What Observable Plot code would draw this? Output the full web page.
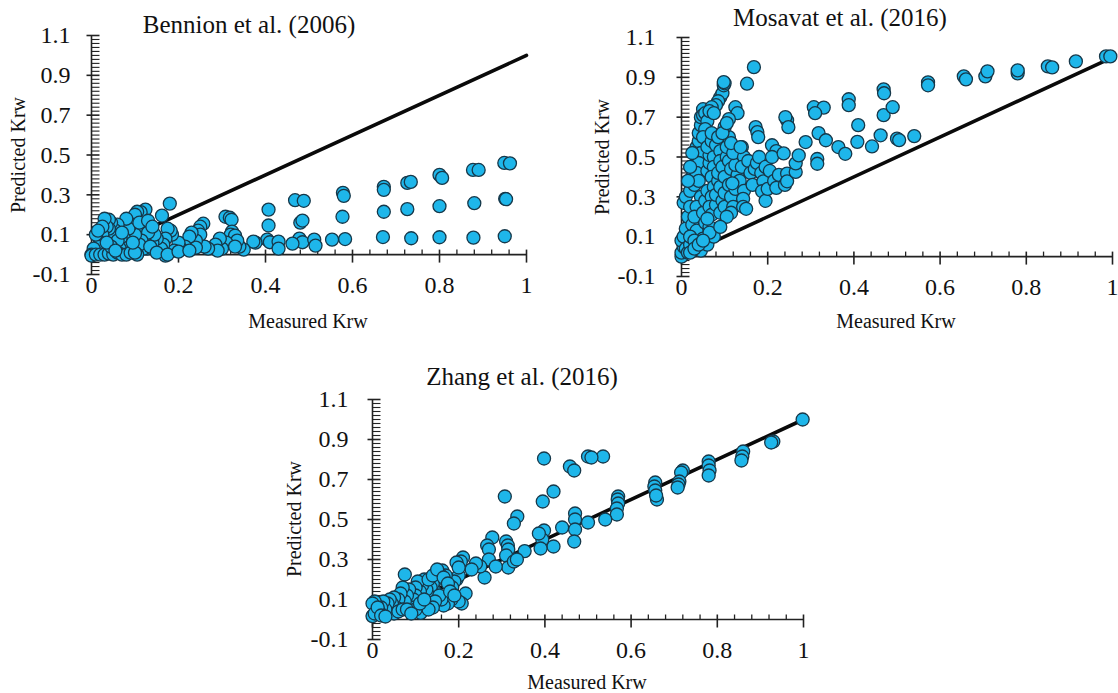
<!DOCTYPE html>
<html><head><meta charset="utf-8">
<script src="https://cdn.jsdelivr.net/npm/d3@7"></script>
<script src="https://cdn.jsdelivr.net/npm/@observablehq/plot@0.6"></script>
<style>
html,body{margin:0;padding:0;background:#fff;}
#wrap{position:relative;width:1118px;height:693px;overflow:hidden;font-family:"Liberation Serif","Times New Roman",serif;color:#111;}
#wrap svg text{font-family:"Liberation Serif","Times New Roman",serif !important;}
.panel{position:absolute;}
.t{position:absolute;white-space:nowrap;line-height:1;}
.title{font-size:25px;transform:translateX(-50%);}
.xl{font-size:20px;transform:translateX(-50%);}
.yl{font-size:20px;transform:translate(-50%,-50%) rotate(-90deg);}
</style></head>
<body><div id="wrap"></div>
<script>
// ---------- data ----------
const xTickValues = [0, 0.2, 0.4, 0.6, 0.8, 1];
const yTickValues = [-0.1, 0.1, 0.3, 0.5, 0.7, 0.9, 1.1];
const lineMeasured = [0, 1];
const linePredicted = [0, 1];

const bennionPoints = [
[0.949,0.46],[0.962,0.458],[0.951,0.28],[0.953,0.278],[0.95,0.092],
[0.877,0.425],[0.89,0.425],[0.88,0.258],[0.878,0.085],
[0.80,0.40],[0.806,0.385],[0.80,0.243],[0.80,0.087],
[0.726,0.36],[0.734,0.365],[0.726,0.228],[0.735,0.082],
[0.672,0.34],[0.672,0.325],[0.672,0.215],[0.67,0.088],
[0.578,0.31],[0.58,0.295],[0.577,0.19],[0.583,0.078],[0.553,0.075],
[0.468,0.273],[0.488,0.27],[0.48,0.16],[0.485,0.171],[0.478,0.08],[0.485,0.062],[0.462,0.055],[0.512,0.075],[0.515,0.045],
[0.407,0.226],[0.407,0.146],[0.404,0.075],[0.41,0.062],[0.43,0.065],[0.43,0.03],[0.377,0.06],[0.372,0.065],[0.35,0.025],[0.34,0.04],
[0.308,0.19],[0.318,0.185],[0.322,0.175],[0.323,0.115],[0.32,0.1],[0.33,0.095],[0.335,0.07],[0.31,0.06],[0.33,0.04],[0.3,0.03],[0.295,0.08],[0.285,0.05],[0.29,0.02],[0.268,0.03],[0.26,0.04],
[0.257,0.155],[0.25,0.14],[0.245,0.12],[0.25,0.1],[0.24,0.07],[0.24,0.035],[0.23,0.11],[0.225,0.09],[0.215,0.04],[0.205,0.03],[0.2,0.06],[0.19,0.02],[0.185,0.1],[0.182,0.12],[0.175,0.13],[0.17,0.08],[0.17,-0.005],[0.165,0.05],[0.16,0.03],[0.18,0.256],[0.162,0.196],[0.15,0.08],[0.14,0.06],[0.145,0.1],
[0.128,0.03],[0.124,0.226],[0.113,0.213],[0.105,0.215],[0.1,0.2],[0.094,0.15],[0.12,0.13],[0.13,0.11],[0.115,0.07],[0.12,0.03],[0.11,0.05],[0.105,0.0],[0.1,0.1],[0.09,0.15],[0.085,0.13],[0.08,0.18],[0.075,0.08],[0.067,0.08],[0.085,0.035],[0.065,0.03],[0.06,0.15],[0.055,0.12],[0.05,0.09],[0.06,0.07],[0.045,0.16],[0.04,0.175],[0.04,0.13],[0.035,0.14],[0.03,0.18],[0.025,0.1],[0.02,0.06],[0.015,0.04],[0.01,0.1],[0.005,0.03],[0.0,0.0],[0.0,-0.005],[0.01,0.0],[0.02,0.0],[0.03,0.0],[0.04,0.005],[0.05,0.0],[0.06,0.01],[0.07,0.0],[0.08,0.0],[0.09,0.01],[0.1,0.01],[0.045,0.04],[0.035,0.06],[0.025,0.14],[0.015,0.12],[0.055,0.02],[0.095,0.06],[0.135,0.04],[0.15,0.01],[0.175,0.0],[0.2,0.015],[0.225,0.02],[0.07,0.11],[0.11,0.16],[0.13,0.17],[0.14,0.14]
];

const mosavatPoints = [
[0.0,0.0],[0.0,0.02],[0.005,0.05],[0.0,0.08],[0.005,0.1],[0.01,0.04],[0.015,0.02],[0.02,0.06],[0.01,0.14],[0.015,0.2],[0.005,0.27],[0.01,0.3],[0.02,0.25],[0.025,0.16],[0.02,0.33],[0.025,0.4],[0.03,0.45],[0.03,0.36],[0.035,0.5],[0.035,0.55],[0.04,0.58],[0.04,0.62],[0.045,0.66],[0.045,0.7],[0.05,0.74],[0.05,0.71],[0.055,0.72],[0.06,0.68],[0.055,0.64],[0.05,0.6],[0.045,0.52],[0.04,0.47],[0.035,0.42],[0.04,0.38],[0.045,0.3],[0.035,0.25],[0.03,0.2],[0.035,0.13],[0.04,0.07],[0.05,0.09],[0.055,0.17],[0.05,0.22],[0.055,0.28],[0.06,0.33],[0.06,0.43],[0.065,0.47],[0.065,0.51],[0.06,0.55],[0.07,0.58],[0.07,0.62],[0.075,0.5],[0.075,0.45],[0.07,0.4],[0.075,0.35],[0.07,0.3],[0.065,0.25],[0.07,0.21],[0.065,0.15],[0.08,0.26],[0.08,0.31],[0.085,0.38],[0.085,0.42],[0.08,0.56],[0.085,0.6],[0.09,0.53],[0.09,0.48],[0.095,0.45],[0.09,0.35],[0.095,0.28],[0.09,0.22],[0.1,0.25],[0.1,0.32],[0.1,0.4],[0.105,0.5],[0.105,0.55],[0.11,0.6],[0.1,0.65],[0.095,0.62],[0.11,0.48],[0.115,0.44],[0.11,0.36],[0.115,0.3],[0.12,0.25],[0.115,0.22],[0.105,0.2],[0.125,0.34],[0.13,0.41],[0.125,0.46],[0.12,0.52],[0.115,0.57],[0.125,0.75],[0.13,0.72],[0.11,0.69],[0.105,0.67],[0.09,0.8],[0.095,0.82],[0.098,0.86],[0.1,0.87],[0.085,0.78],[0.08,0.76],[0.07,0.75],[0.065,0.73],[0.075,0.72],[0.02,0.45],[0.025,0.52],[0.015,0.38],[0.02,0.1],[0.03,0.08],[0.045,0.03],[0.06,0.06],[0.075,0.1],[0.065,0.12],[0.06,0.19],[0.02,0.02],[0.03,0.04],[0.04,0.06],[0.05,0.08],
[0.14,0.55],[0.145,0.5],[0.14,0.45],[0.135,0.38],[0.145,0.33],[0.143,0.29],[0.143,0.25],[0.15,0.24],[0.155,0.48],[0.16,0.42],[0.165,0.36],[0.17,0.44],[0.175,0.47],[0.18,0.5],[0.185,0.42],[0.19,0.378],[0.187,0.328],[0.195,0.28],[0.2,0.34],[0.195,0.45],[0.205,0.43],[0.215,0.38],[0.22,0.345],[0.226,0.41],[0.24,0.36],[0.245,0.417],[0.245,0.378],[0.265,0.425],[0.265,0.468],[0.272,0.508],[0.288,0.575],[0.21,0.559],[0.22,0.53],[0.21,0.5],[0.237,0.518],[0.245,0.684],[0.241,0.7],[0.248,0.65],[0.172,0.65],[0.176,0.625],[0.178,0.6],[0.137,0.55],[0.118,0.368],[0.09,0.149],[0.168,0.951],[0.152,0.868],[0.098,0.876],
[0.307,0.75],[0.33,0.748],[0.31,0.72],[0.388,0.79],[0.388,0.76],[0.469,0.84],[0.47,0.82],[0.469,0.71],[0.49,0.75],[0.41,0.66],[0.364,0.55],[0.38,0.516],[0.408,0.576],[0.442,0.553],[0.462,0.609],[0.5,0.592],[0.505,0.585],[0.54,0.605],[0.318,0.62],[0.335,0.584],[0.315,0.49],[0.315,0.466],
[0.572,0.875],[0.572,0.86],[0.655,0.905],[0.66,0.89],[0.705,0.905],[0.71,0.93],[0.78,0.92],[0.78,0.935],[0.85,0.955],[0.86,0.95],[0.915,0.98],[0.985,1.005],[0.995,1.005]
];

const zhangPoints = [
[0.998,1.0],[0.93,0.89],[0.925,0.885],[0.86,0.84],[0.858,0.815],[0.856,0.795],[0.78,0.79],[0.78,0.77],[0.782,0.745],[0.78,0.72],[0.72,0.745],[0.716,0.735],[0.712,0.69],[0.71,0.675],[0.708,0.66],[0.656,0.685],[0.654,0.665],[0.656,0.645],[0.66,0.6],[0.658,0.62],[0.57,0.615],[0.569,0.6],[0.57,0.58],[0.567,0.555],[0.567,0.525],[0.54,0.5],[0.535,0.815],[0.5,0.485],[0.5,0.815],[0.508,0.81],[0.47,0.53],[0.47,0.5],[0.47,0.45],[0.468,0.39],[0.458,0.765],[0.468,0.745],[0.44,0.46],[0.42,0.64],[0.42,0.365],[0.398,0.805],[0.395,0.59],[0.398,0.445],[0.394,0.4],[0.39,0.355],[0.386,0.43],[0.353,0.342],[0.336,0.515],[0.328,0.48],[0.307,0.615],[0.31,0.39],[0.314,0.37],[0.315,0.35],[0.31,0.32],[0.315,0.26],[0.328,0.29],[0.335,0.3],[0.278,0.41],[0.266,0.37],[0.27,0.35],[0.27,0.3],[0.26,0.21],[0.25,0.265],[0.286,0.265],[0.24,0.28],[0.23,0.25],[0.21,0.31],[0.205,0.29],[0.195,0.285],[0.216,0.13],[0.207,0.08],[0.2,0.09],[0.195,0.2],[0.2,0.22],[0.19,0.19],[0.185,0.16],[0.162,0.245],[0.17,0.22],[0.155,0.23],[0.145,0.14],[0.15,0.2],[0.14,0.18],[0.135,0.16],[0.13,0.12],[0.129,0.083],[0.112,0.033],[0.183,0.1],[0.175,0.08],[0.165,0.07],[0.16,0.1],[0.155,0.12],[0.145,0.09],[0.14,0.06],[0.13,0.05],[0.125,0.15],[0.12,0.2],[0.115,0.17],[0.11,0.14],[0.105,0.19],[0.1,0.16],[0.1,0.12],[0.095,0.1],[0.09,0.06],[0.1,0.05],[0.085,0.15],[0.08,0.12],[0.075,0.225],[0.075,0.09],[0.07,0.16],[0.065,0.13],[0.06,0.1],[0.055,0.06],[0.05,0.03],[0.05,0.11],[0.045,0.08],[0.04,0.1],[0.035,0.08],[0.03,0.05],[0.025,0.09],[0.02,0.06],[0.015,0.04],[0.01,0.07],[0.005,0.09],[0.0,0.08],[0.0,0.017],[0.005,0.03],[0.012,0.06],[0.02,0.02],[0.03,0.015],[0.06,0.04],[0.07,0.05],[0.08,0.05],[0.09,0.03],[0.11,0.08],[0.12,0.1],[0.13,0.2],[0.14,0.22],[0.15,0.25],[0.165,0.21],[0.175,0.18],[0.18,0.14],[0.19,0.12],[0.2,0.26]
];

const titles = ["Bennion et al. (2006)", "Mosavat et al. (2016)", "Zhang et al. (2016)"];
const xLabel = "Measured Krw";
const yLabel = "Predicted Krw";

// ---------- drawing ----------
const serif = '"Liberation Serif","Times New Roman",serif';
const xMinor = d3.range(0, 1.0001, 0.04).map(v => +v.toFixed(2)).filter(v => Math.abs(v*5 - Math.round(v*5)) > 1e-6);
const yMinor = d3.range(-0.1, 1.1001, 0.02).map(v => +v.toFixed(2)).filter(v => !yTickValues.some(t => Math.abs(t - v) < 1e-6));
const diag = lineMeasured.map((m, i) => ({m, p: linePredicted[i]}));

// tick-shaped symbols (pixel lengths)
const seg = (x1, y1, x2, y2) => ({draw(ctx) { ctx.moveTo(x1, y1); ctx.lineTo(x2, y2); }});
const xMajorSym = seg(0, -5, 0, 8);
const xMinorSym = seg(0, -5, 0, 0);
const yMajorSym = seg(-5, 0, 8, 0);
const yMinorSym = seg(0, 0, 8, 0);

function panel(points, o) {
  const data = points.map(([m, p]) => ({m, p}));
  return Plot.plot({
    width: o.width, height: o.height,
    marginLeft: o.ml, marginRight: o.mr, marginTop: o.mt, marginBottom: o.mb,
    x: {domain: [0, 1]},
    y: {domain: [-0.1, 1.1]},
    style: {fontFamily: serif, fontSize: "24px", color: "#111", background: "transparent", overflow: "visible"},
    marks: [
      Plot.axisY(yTickValues, {tickSize: 0, tickPadding: o.pad, tickFormat: d => d.toFixed(1), label: null, fontSize: 24, fontFamily: serif, fill: "#111"}),
      Plot.axisX(xTickValues, {tickSize: 0, tickPadding: 1, tickFormat: d => String(d), label: null, fontSize: 24, fontFamily: serif, fill: "#111"}),
      Plot.ruleX([0], {y1: -0.1, y2: 1.1, stroke: "#222", strokeWidth: 1.6}),
      Plot.ruleY([0], {x1: 0, x2: 1, stroke: "#222", strokeWidth: 1.6}),
      Plot.dot(yMinor, {x: () => 0, y: d => d, symbol: yMinorSym, r: 4, fill: "none", stroke: "#222", strokeWidth: 1.1}),
      Plot.dot(yTickValues, {x: () => 0, y: d => d, symbol: yMajorSym, r: 4, fill: "none", stroke: "#222", strokeWidth: 1.6}),
      Plot.dot(xMinor, {x: d => d, y: () => 0, symbol: xMinorSym, r: 4, fill: "none", stroke: "#222", strokeWidth: 1.3}),
      Plot.dot(xTickValues, {x: d => d, y: () => 0, symbol: xMajorSym, r: 4, fill: "none", stroke: "#222", strokeWidth: 1.6}),
      Plot.line(diag, {x: "m", y: "p", stroke: "#0a0a0a", strokeWidth: 3.6}),
      Plot.dot(data, {x: "m", y: "p", r: 6.5, fill: "#1eb6ea", stroke: "#16384a", strokeWidth: 1.3})
    ]
  });
}

const wrap = document.getElementById("wrap");
function place(el, left, top) { el.classList.add("panel"); el.style.left = left + "px"; el.style.top = top + "px"; wrap.appendChild(el); }
place(panel(bennionPoints, {width: 559, height: 340, ml: 91, mr: 33, mt: 35, mb: 66, pad: 21}), 0, 0);
place(panel(mosavatPoints, {width: 559, height: 340, ml: 122, mr: 6, mt: 37, mb: 64, pad: 26}), 559, 0);
place(panel(zhangPoints, {width: 1118, height: 353, ml: 372, mr: 315, mt: 59, mb: 54, pad: 24}), 0, 340);

function label(text, cls, x, y) {
  const d = document.createElement("div");
  d.className = "t " + cls; d.textContent = text;
  d.style.left = x + "px"; d.style.top = y + "px";
  wrap.appendChild(d);
}
label(titles[0], "title", 249, 12);
label(titles[1], "title", 840, 5);
label(titles[2], "title", 522, 364);
label(xLabel, "xl", 308, 311);
label(xLabel, "xl", 896, 311);
label(xLabel, "xl", 587, 672);
label(yLabel, "yl", 18, 155);
label(yLabel, "yl", 602, 157);
label(yLabel, "yl", 294, 519);
</script>
</body></html>
